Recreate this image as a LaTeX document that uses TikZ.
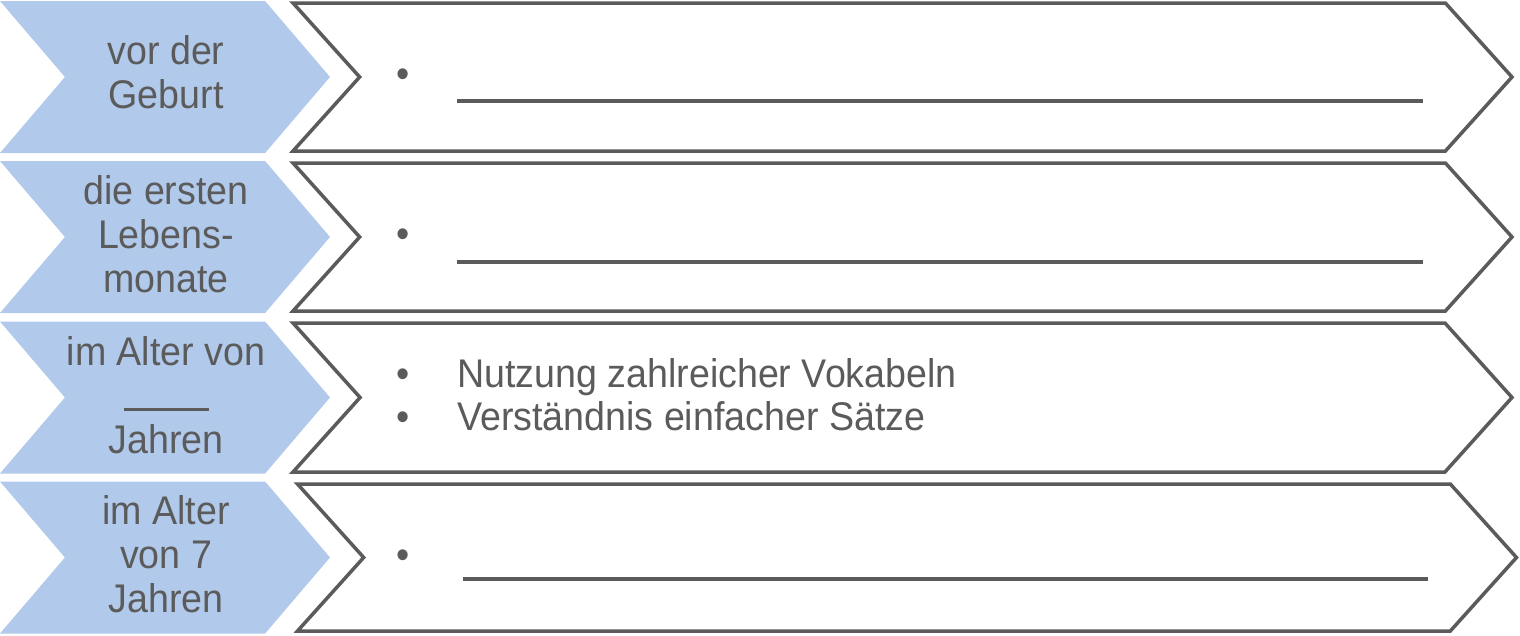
\documentclass[tikz,border=0pt]{standalone}
\usepackage{fontspec}
\setmainfont{Liberation Sans}[FakeStretch=0.94]
\usetikzlibrary{positioning,shapes.symbols}
\definecolor{stagefill}{HTML}{B1C9EA}
\definecolor{inkgray}{HTML}{5B5B5B}
\tikzset{
    stage/.style = {
        shape=signal,
        signal to=east,
        signal from=west,
        signal pointer angle=99,
        fill=stagefill,
        minimum width=330pt,
        minimum height=152pt,
        inner sep=0pt
    },
    content/.style = {
        shape=signal,
        signal to=east,
        signal from=west,
        signal pointer angle=96,
        draw=inkgray,
        line width=3.5pt,
        minimum width=1219pt,
        minimum height=148pt,
        inner sep=0pt
    },
    stagetext/.style = {
        anchor=base,
        align=center,
        text=inkgray,
        inner sep=0pt,
        font=\fontsize{40}{44}\selectfont
    },
    itemtext/.style = {
        anchor=base west,
        align=left,
        text=inkgray,
        inner sep=0pt,
        font=\fontsize{40}{43}\selectfont
    },
    blank/.style = {
        draw=inkgray,
        line width=3.5pt
    },
}
\begin{document}
\begin{tikzpicture}[x=1pt,y=-1pt]
            \useasboundingbox (0,0) rectangle (1520,635);

            \node[stage] (stage1) at (165,77) {};
            \node[stage] (stage2) at (165,237) {};
            \node[stage] (stage3) at (165,397.5) {};
            \node[stage] (stage4) at (165,557.5) {};

            \node[content] (box1) at (902.5,77) {};
            \node[content] (box2) at (902.5,237) {};
            \node[content, minimum height=149pt] (box3) at (902.5,397.5) {};
            \node[content, minimum height=147pt] (box4) at (907,557.5) {};

            % anchor base = baseline of the last line
            \node[stagetext] (label1) at (166,108) {vor der\\Geburt};
            \node[stagetext] (label2) at (166,292) {die ersten\\Lebens-\\monate};
            \node[stagetext] (label3) at (166,453) {im Alter von\\\rule[-2pt]{85pt}{3pt}\\Jahren};
            \node[stagetext] (label4) at (166,612) {im Alter\\von 7\\Jahren};

            \node[itemtext] (dot1) at (396,87) {\textbullet};
            \node[itemtext] (dot2) at (396,247) {\textbullet};
            \node[itemtext] (dot3) at (396,430) {\textbullet\\\textbullet};
            \node[itemtext] (dot4) at (396,568) {\textbullet};

            \node[itemtext] (items3) at (457,430) {Nutzung zahlreicher Vokabeln\\Verständnis einfacher Sätze};

            \coordinate (fill1a) at (457,101);
            \coordinate (fill1b) at (1423,101);
            \coordinate (fill2a) at (457,262);
            \coordinate (fill2b) at (1423,262);
            \coordinate (fill4a) at (463,579);
            \coordinate (fill4b) at (1428,579);
            \path[blank] (fill1a) -- (fill1b);
            \path[blank] (fill2a) -- (fill2b);
            \path[blank] (fill4a) -- (fill4b);

        \end{tikzpicture}
\end{document}
